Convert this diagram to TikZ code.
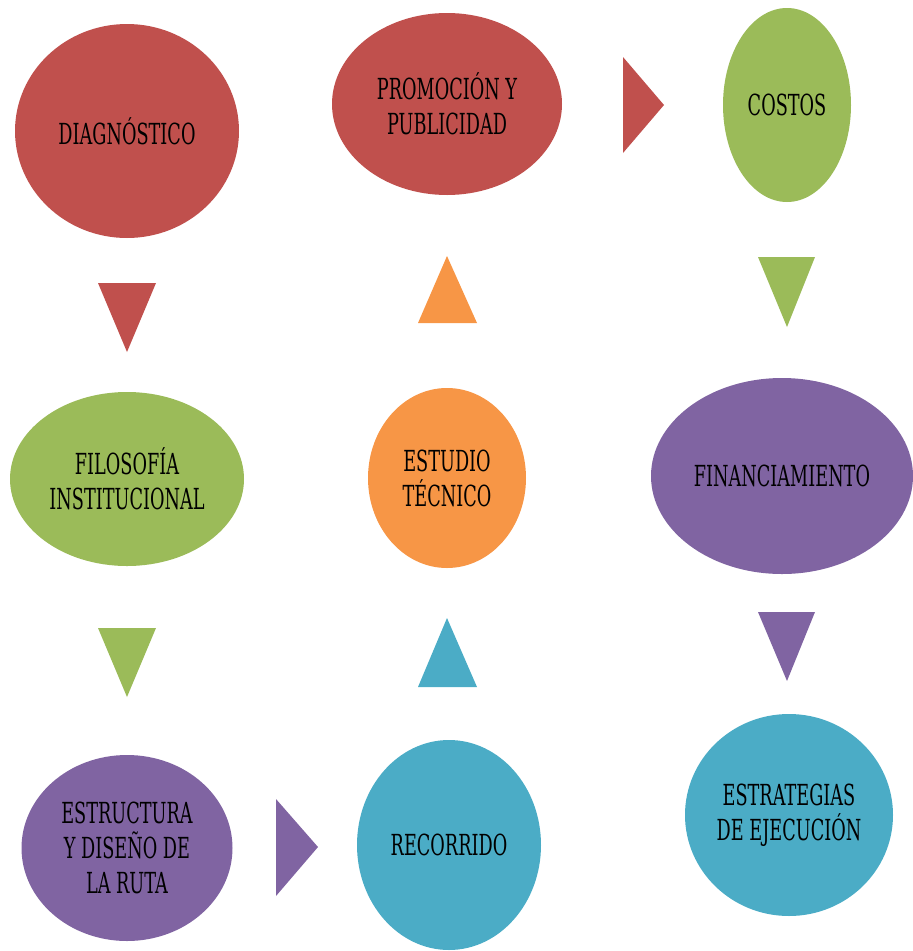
\documentclass[tikz,border=0pt]{standalone}
\usepackage{fontspec}
\setmainfont{DejaVu Serif}[FakeStretch=0.61]
\usetikzlibrary{shapes.geometric}
\definecolor{cred}{HTML}{C0504D}
\definecolor{cgreen}{HTML}{9BBB59}
\definecolor{cpurple}{HTML}{8064A2}
\definecolor{ccyan}{HTML}{4BACC6}
\definecolor{corange}{HTML}{F79646}
\tikzset{
  bubble/.style={ellipse, inner sep=0pt, align=center, text=black,
    font=\fontsize{29}{35}\selectfont},
  arrowtri/.style={draw=none}
}
\begin{document}
\begin{tikzpicture}[x=1pt,y=-1pt]
\useasboundingbox (0,0) rectangle (913,951);
% ellipses
\node[bubble, fill=cred, minimum width=224pt, minimum height=214pt] (diag) at (127,131) {DIAGNÓSTICO};
\node[bubble, fill=cred, minimum width=230pt, minimum height=182pt] (promo) at (447,104) {PROMOCIÓN Y\\PUBLICIDAD};
\node[bubble, fill=cgreen, minimum width=128pt, minimum height=194pt] (costos) at (787,105) {COSTOS};
\node[bubble, fill=cgreen, minimum width=234pt, minimum height=174pt] (filo) at (127,479) {FILOSOFÍA\\INSTITUCIONAL};
\node[bubble, fill=corange, minimum width=158pt, minimum height=180pt] (estudio) at (447,478) {ESTUDIO\\TÉCNICO};
\node[bubble, fill=cpurple, minimum width=262pt, minimum height=196pt] (finan) at (782,476) {FINANCIAMIENTO};
\node[bubble, fill=cpurple, minimum width=211pt, minimum height=186pt] (estru) at (127,848) {ESTRUCTURA\\Y DISEÑO DE\\LA RUTA};
\node[bubble, fill=ccyan, minimum width=184pt, minimum height=210pt] (reco) at (449,845) {RECORRIDO};
\node[bubble, fill=ccyan, minimum width=208pt, minimum height=202pt] (estra) at (789,815) {ESTRATEGIAS\\DE EJECUCIÓN};
% triangles
\fill[cred] (98,283) -- (156,283) -- (127,352) -- cycle;
\fill[corange] (418,323) -- (477,323) -- (447,256) -- cycle;
\fill[cred] (623,57) -- (623,153) -- (664,105) -- cycle;
\fill[cgreen] (758,257) -- (815,257) -- (787,327) -- cycle;
\fill[cgreen] (98,628) -- (156,628) -- (127,697) -- cycle;
\fill[ccyan] (418,687) -- (477,687) -- (447,618) -- cycle;
\fill[cpurple] (758,612) -- (815,612) -- (787,681) -- cycle;
\fill[cpurple] (276,799) -- (276,896) -- (318,847) -- cycle;
\end{tikzpicture}
\end{document}
